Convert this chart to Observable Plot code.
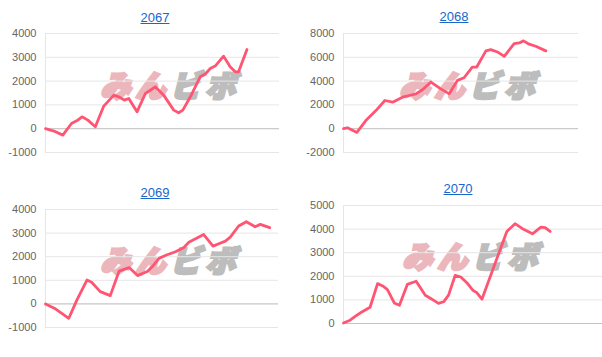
<!DOCTYPE html>
<html><head><meta charset="utf-8">
<script src="https://cdn.jsdelivr.net/npm/d3@7"></script>
<script src="https://cdn.jsdelivr.net/npm/@observablehq/plot@0.6"></script>
<style>
body{margin:0;background:#fff;font-family:"Liberation Sans",Arial,sans-serif;}
#wrap{position:relative;width:602px;height:357px;overflow:hidden;}
.title{position:absolute;font-size:13px;line-height:16px;color:#1a66cc;text-decoration:underline;transform:translateX(-50%);white-space:nowrap;}
.wm{position:absolute;font-family:"Noto Sans CJK JP",sans-serif;font-weight:900;font-size:30px;line-height:30px;white-space:nowrap;letter-spacing:5px;transform:skewX(-14deg);transform-origin:left bottom;}
.wm .a{color:#ebb7bc;-webkit-text-stroke:3px #ebb7bc;}
.wm .b{color:#bdbdbd;-webkit-text-stroke:3px #bdbdbd;margin-left:0px;}
svg{position:absolute;overflow:visible;}
</style></head><body><div id="wrap"></div>
<script>
// panel titles
const titles = ["2067", "2068", "2069", "2070"];
// x positions (share of the panel width, 0-100) and cumulative values
const x2067 = [0,3.6,7.4,11.1,13.5,15.6,18.1,21.3,24.9,29.2,31.3,33.7,35.6,39.1,42.7,46.9,50.5,54.8,56.9,58.7,61.9,66.1,68.3,70.4,72.5,76.1,78.9,81.1,82.5,86.1];
const y2067 = [0,-100,-270,220,340,500,360,80,950,1410,1340,1200,1270,710,1480,1760,1410,780,670,780,1340,2180,2300,2530,2630,3050,2600,2390,2390,3330];
const x2068 = [0,1.7,5.7,9.5,13.8,17.6,20.9,25.1,27.9,30.8,33.6,37.2,41.4,45.0,48.5,51.3,54.8,56.7,60.6,62.7,65.5,68.4,72.6,74.8,76.6,79.0,81.8,86.1];
const y2068 = [0,80,-310,680,1520,2370,2230,2650,2790,2930,3270,3920,3350,2930,4060,4280,5180,5180,6540,6650,6450,6080,7150,7210,7380,7100,6930,6540];
const x2069 = [0,3.8,10.0,13.5,17.8,19.8,23.5,27.8,31.6,35.9,39.5,43.7,45.9,48.7,51.9,55.8,59.4,61.5,67.9,71.9,74.4,77.2,79.3,82.9,86.2,90.0,92.2,96.2];
const y2069 = [0,-180,-610,170,1010,920,520,350,1390,1540,1200,1370,1580,1930,2070,2210,2390,2610,2940,2450,2550,2660,2830,3300,3480,3270,3370,3230];
const x2070 = [0,2.8,5.7,7.8,11.3,14.5,16.7,18.7,21.6,23.8,27.2,30.9,34.8,37.6,40.4,42.6,44.7,47.5,49.9,52.8,55.0,56.7,58.9,69.5,73.0,76.6,80.4,84.0,85.8,87.9];
const y2070 = [20,140,350,490,690,1690,1590,1440,870,770,1660,1790,1200,1030,850,920,1200,2040,1970,1690,1410,1310,1030,3900,4230,3990,3800,4080,4060,3900];
// y tick labels
const ticksA = [-1000,0,1000,2000,3000,4000];
const ticksB = [-2000,0,2000,4000,6000,8000];
const ticksC = [0,1000,2000,3000,4000,5000];

const wrap = document.getElementById("wrap");
const panels = [
  {t:titles[0], xs:x2067, ys:y2067, ticks:ticksA, xMax:100, left:0, top:25, w:300, h:140, ml:45, mr:21, mt:8, mb:13, tx:155, ty:10, wx:100, wy:69},
  {t:titles[1], xs:x2068, ys:y2068, ticks:ticksB, xMax:100, left:300, top:25, w:302, h:140, ml:43, mr:24, mt:8, mb:13, tx:454, ty:9, wx:399, wy:69},
  {t:titles[2], xs:x2069, ys:y2069, ticks:ticksA, xMax:100, left:0, top:200, w:300, h:140, ml:45, mr:22, mt:9, mb:13, tx:155, ty:185, wx:100, wy:244},
  {t:titles[3], xs:x2070, ys:y2070, ticks:ticksC, xMax:110.2, left:300, top:195, w:302, h:140, ml:43, mr:0, mt:10, mb:12, tx:458, ty:181, wx:402, wy:240}
];
for (const p of panels) {
  const wm = document.createElement("div");
  wm.className = "wm";
  wm.style.left = p.wx + "px"; wm.style.top = p.wy + "px";
  wm.innerHTML = '<span class="a">みん</span><span class="b">ビボ</span>';
  wrap.appendChild(wm);
  const data = p.xs.map((x, i) => ({x, y: p.ys[i]}));
  const svg = Plot.plot({
    width: p.w, height: p.h,
    marginLeft: p.ml, marginRight: p.mr, marginTop: p.mt, marginBottom: p.mb,
    style: {background: "transparent", fontFamily: "Liberation Sans, Arial, sans-serif", fontSize: "11px", overflow: "visible"},
    x: {domain: [0, p.xMax], axis: null},
    y: {domain: [p.ticks[0], p.ticks[p.ticks.length - 1]], axis: null},
    marks: [
      Plot.gridY(p.ticks, {stroke: "#e6e6e6", strokeOpacity: 1}),
      Plot.ruleX([0], {stroke: "#e6e6e6"}),
      Plot.ruleY([0], {stroke: "#c4c4c4"}),
      Plot.axisY(p.ticks, {tickSize: 0, tickPadding: 9, label: null, tickFormat: d => String(d), fill: "#666", fontSize: 11}),
      Plot.line(data, {x: "x", y: "y", stroke: "#ff5573", strokeWidth: 2.8, strokeLinejoin: "round", curve: "linear"})
    ]
  });
  svg.style.left = p.left + "px"; svg.style.top = p.top + "px";
  wrap.appendChild(svg);
  const t = document.createElement("div");
  t.className = "title"; t.textContent = p.t;
  t.style.left = p.tx + "px"; t.style.top = p.ty + "px";
  wrap.appendChild(t);
}
</script></body></html>
